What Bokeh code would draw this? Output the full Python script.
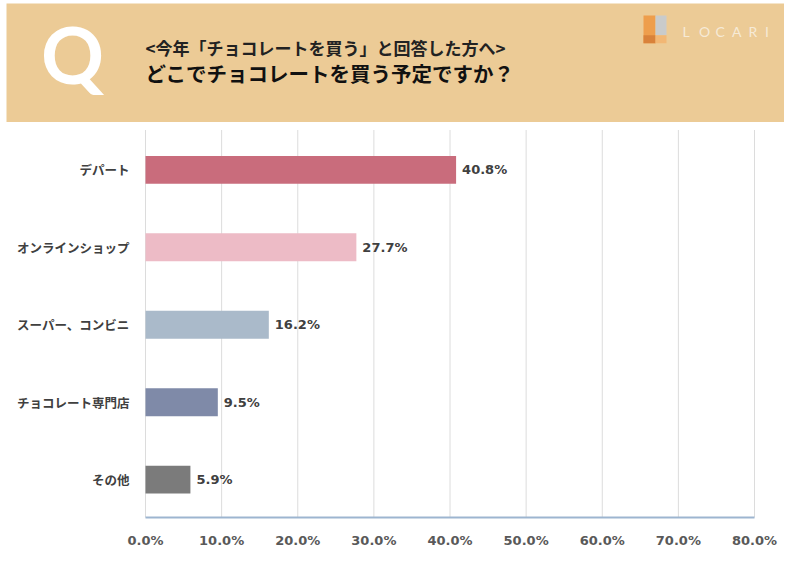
from bokeh.plotting import figure
from bokeh.models import Range1d, FixedTicker, PrintfTickFormatter, ColumnDataSource
from bokeh.core.properties import value
from bokeh.embed import file_html
from bokeh.resources import INLINE

# ---- data ----
categories = ["デパート", "オンラインショップ", "スーパー、コンビニ", "チョコレート専門店", "その他"]
values = [40.8, 27.7, 16.2, 9.5, 5.9]
bar_colors = ["#C96C7C", "#EDBBC6", "#AABACA", "#7F8AA8", "#7B7B7B"]
x_ticks = [0, 10, 20, 30, 40, 50, 60, 70, 80]
title_line1 = "<今年「チョコレートを買う」と回答した方へ>"
title_line2 = "どこでチョコレートを買う予定ですか？"
brand = "LOCARI"

JP = "Noto Sans CJK JP"
NUM = "DejaVu Sans"

# ---- geometry (figure pixels) ----
W, H = 784, 550
FRAME_B = 521            # frame bottom (pixels from top)
PX0, PX80 = 145, 754     # x pixel of 0% and 80%
CAT_TOP, CAT_BOT = 170, 481  # pixel centre of first / last category
AXIS_PX = 519            # pixel row of the value axis line
CHART_TOP = 130          # pixel row where grid lines start

n = len(categories)
sx = (PX80 - PX0) / 80.0
u = (CAT_BOT - CAT_TOP) / (n - 1)
x_rng = Range1d(-PX0 / sx, 80 + (W - PX80) / sx)
y_rng = Range1d(-(FRAME_B - CAT_BOT) / u, CAT_BOT / u)
y_axis_val = -(AXIS_PX - CAT_BOT) / u
y_grid_top = (CAT_BOT - CHART_TOP) / u

p = figure(width=W, height=H, x_range=x_rng, y_range=y_rng,
           output_backend="svg", toolbar_location=None, y_axis_location=None,
           min_border_left=0, min_border_right=0, min_border_top=0,
           min_border_bottom=H - FRAME_B)
p.outline_line_color = None
p.background_fill_color = "white"
p.border_fill_color = "white"
p.grid.visible = False

p.extra_x_ranges = {"hx": Range1d(0, W)}
p.extra_y_ranges = {"hy": Range1d(FRAME_B, 0)}

# ---- header ----
p.quad(left=[6], right=[784], top=[3], bottom=[122], fill_color="#ECCB96", line_color=None,
       x_range_name="hx", y_range_name="hy")
p.text(x=[72], y=[54], text=["Q"], text_font=value("Lato"), text_font_style="bold",
       text_font_size="78px", text_color="white", text_align="center", text_baseline="middle",
       x_range_name="hx", y_range_name="hy")
p.text(x=[145], y=[47], text=[title_line1], text_font=value(JP), text_font_style="bold",
       text_font_size="17px", text_color="#222222", text_align="left", text_baseline="middle",
       x_range_name="hx", y_range_name="hy")
p.text(x=[145], y=[73], text=[title_line2], text_font=value(JP), text_font_style="bold",
       text_font_size="20.5px", text_color="#111111", text_align="left", text_baseline="middle",
       x_range_name="hx", y_range_name="hy")
# logo mark
p.quad(left=[643, 643, 655, 655], right=[655, 655, 666, 666], top=[15, 35, 15, 35], bottom=[43, 43, 35, 43],
       fill_color=["#EE9E4C", "#D9823A", "#C9CBCB", "#F2B774"], line_color=None,
       x_range_name="hx", y_range_name="hy")
letters = list(brand)
p.text(x=[682 + i * 16.5 for i in range(len(letters))], y=[31] * len(letters), text=letters,
       text_font=value("Lato"), text_font_size="14px", text_color="#F6EAD6",
       text_align="left", text_baseline="middle", x_range_name="hx", y_range_name="hy")

# ---- chart ----
ypos = [n - 1 - i for i in range(n)]
src = ColumnDataSource(dict(y=ypos, v=values, c=bar_colors, cat=categories,
                            lab=["%.1f%%" % v for v in values]))

p.segment(x0=x_ticks, x1=x_ticks, y0=[y_axis_val] * len(x_ticks), y1=[y_grid_top] * len(x_ticks),
          line_color="#DCDCDC", line_width=1)
p.hbar(y="y", left=0, right="v", height=0.36, fill_color="c", line_color=None, source=src)
p.segment(x0=[x_ticks[0]], x1=[x_ticks[-1]], y0=[y_axis_val], y1=[y_axis_val],
          line_color="#9DB5D0", line_width=2)
p.text(x="v", y="y", text="lab", x_offset=6, text_font=value(NUM), text_font_style="bold",
       text_font_size="13px", text_color="#404040", text_align="left", text_baseline="middle",
       source=src)
p.text(x=0, y="y", text="cat", x_offset=-16, text_font=value(JP), text_font_style="bold",
       text_font_size="12.5px", text_color="#404040", text_align="right", text_baseline="middle",
       source=src)

p.xaxis.ticker = FixedTicker(ticks=x_ticks)
p.xaxis.formatter = PrintfTickFormatter(format="%.1f%%")
p.xaxis.axis_line_color = None
p.xaxis.major_tick_line_color = None
p.xaxis.minor_tick_line_color = None
p.xaxis.major_label_standoff = 7
p.xaxis.major_label_text_font = NUM
p.xaxis.major_label_text_font_style = "bold"
p.xaxis.major_label_text_font_size = "13px"
p.xaxis.major_label_text_color = "#595959"

open("out.html", "w").write(file_html(p, INLINE))
